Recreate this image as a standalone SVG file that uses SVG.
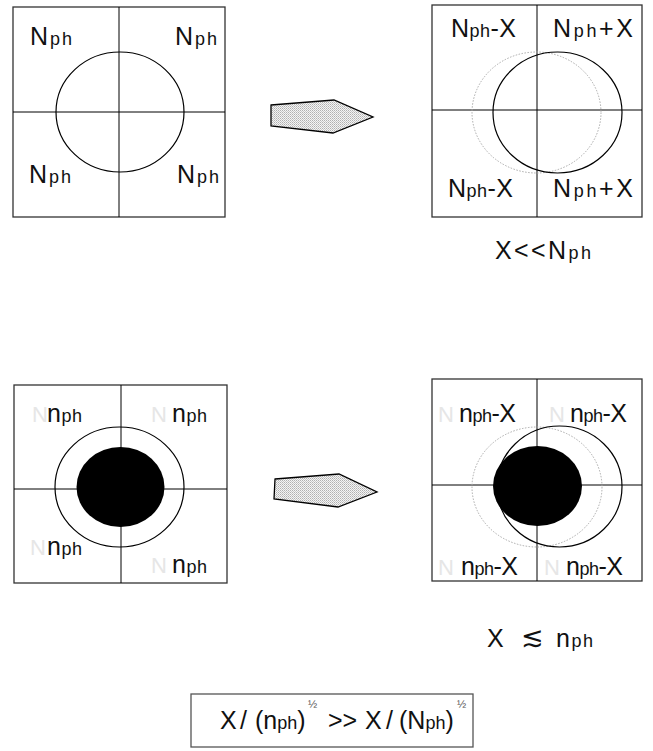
<svg xmlns="http://www.w3.org/2000/svg" width="653" height="751" viewBox="0 0 653 751">
<style>
.box{fill:#fff;stroke:#333;stroke-width:1.3}
.div{stroke:#000;stroke-width:1;fill:none}
.circ{fill:none;stroke:#000;stroke-width:1.2}
.dot{fill:none;stroke:#aaa;stroke-width:1;stroke-dasharray:1.5 1.5}
.blob{fill:#000}
.arrow{fill:url(#stip);stroke:#000;stroke-width:1.3}
text{font-family:"Liberation Sans",Arial,sans-serif;font-size:25px;fill:#111}
.s{font-size:18px}
.faint{fill:#e6e6e6;font-size:22px}
.half{font-size:11px;fill:#555}
</style>
<defs>
<pattern id="stip" width="2" height="2" patternUnits="userSpaceOnUse">
<rect width="2" height="2" fill="#f4f4f4"/>
<rect width="1" height="1" fill="#b0b0b0"/>
<rect x="1" y="1" width="1" height="1" fill="#c8c8c8"/>
</pattern>
</defs>

<g id="box-top-left">
<rect class="box" x="13" y="7" width="212" height="210"/>
<line class="div" x1="119" y1="7" x2="119" y2="217"/>
<line class="div" x1="13" y1="112" x2="225" y2="112"/>
<ellipse class="circ" cx="120" cy="112" rx="64" ry="60"/>
<text x="30" y="45" textLength="42">N<tspan class="s">ph</tspan></text>
<text x="175" y="45" textLength="42">N<tspan class="s">ph</tspan></text>
<text x="29" y="183" textLength="42">N<tspan class="s">ph</tspan></text>
<text x="177" y="183" textLength="42">N<tspan class="s">ph</tspan></text>
</g>

<g id="box-top-right">
<rect class="box" x="432" y="5" width="210" height="212"/>
<line class="div" x1="537" y1="5" x2="537" y2="217"/>
<line class="div" x1="432" y1="110" x2="642" y2="110"/>
<ellipse class="dot" cx="536.5" cy="112.5" rx="64.5" ry="60.5"/>
<ellipse class="circ" cx="557.5" cy="112.5" rx="64.5" ry="60.5"/>
<text x="451" y="37" textLength="65">N<tspan class="s">ph</tspan>-X</text>
<text x="553" y="37" textLength="80">N<tspan class="s">ph</tspan>+X</text>
<text x="448" y="197" textLength="65">N<tspan class="s">ph</tspan>-X</text>
<text x="553" y="197" textLength="80">N<tspan class="s">ph</tspan>+X</text>
</g>

<g id="label-top">
<text x="495" y="259" textLength="96">X&lt;&lt;N<tspan class="s">ph</tspan></text>
</g>

<g id="box-bottom-left">
<rect class="box" x="14" y="385" width="213" height="198"/>
<line class="div" x1="121" y1="385" x2="121" y2="583"/>
<line class="div" x1="14" y1="489" x2="227" y2="489"/>
<ellipse class="circ" cx="119.5" cy="487" rx="64.5" ry="60"/>
<ellipse class="blob" cx="120.5" cy="487" rx="44" ry="40"/>
<text class="faint" x="32" y="422">N</text>
<text x="47" y="422" textLength="35">n<tspan class="s">ph</tspan></text>
<text class="faint" x="151" y="422">N</text>
<text x="172" y="422" textLength="35">n<tspan class="s">ph</tspan></text>
<text class="faint" x="30" y="555">N</text>
<text x="47" y="555" textLength="35">n<tspan class="s">ph</tspan></text>
<text class="faint" x="151" y="573">N</text>
<text x="172" y="573" textLength="35">n<tspan class="s">ph</tspan></text>
</g>

<g id="box-bottom-right">
<rect class="box" x="432" y="379" width="210" height="202"/>
<line class="div" x1="537" y1="379" x2="537" y2="581"/>
<line class="div" x1="432" y1="485" x2="642" y2="485"/>
<ellipse class="dot" cx="537" cy="487" rx="65" ry="60"/>
<ellipse class="circ" cx="559.5" cy="486.5" rx="62.5" ry="60.5"/>
<ellipse class="blob" cx="537.5" cy="486" rx="44.5" ry="40"/>
<text class="faint" x="438" y="422">N</text>
<text x="459" y="422" textLength="57">n<tspan class="s">ph</tspan>-X</text>
<text class="faint" x="549" y="422">N</text>
<text x="570" y="422" textLength="57">n<tspan class="s">ph</tspan>-X</text>
<text class="faint" x="438" y="575">N</text>
<text x="461" y="575" textLength="57">n<tspan class="s">ph</tspan>-X</text>
<text class="faint" x="544" y="575">N</text>
<text x="566" y="575" textLength="57">n<tspan class="s">ph</tspan>-X</text>
</g>

<g id="label-bottom">
<text x="487" y="647">X</text>
<text x="521" y="646" style="font-size:27px">≲</text>
<text x="556" y="647" textLength="37">n<tspan class="s">ph</tspan></text>
</g>

<g id="formula">
<rect class="box" x="191" y="694" width="282" height="53" style="stroke:#555"/>
<text y="729"><tspan x="220">X</tspan><tspan x="240">/</tspan><tspan x="255">(n<tspan class="s">ph</tspan>)</tspan><tspan x="328">&gt;&gt;</tspan><tspan x="365">X</tspan><tspan x="386">/</tspan><tspan x="399">(N<tspan class="s">ph</tspan>)</tspan></text>
<text class="half" x="308" y="708">½</text>
<text class="half" x="457" y="708">½</text>
</g>

<g id="connectors">
<polygon class="arrow" points="271,105 334,100 373,117 333,133 271,126"/>
<polygon class="arrow" points="275,479 339,474 377,492 338,507 274,499"/>
</g>
</svg>
